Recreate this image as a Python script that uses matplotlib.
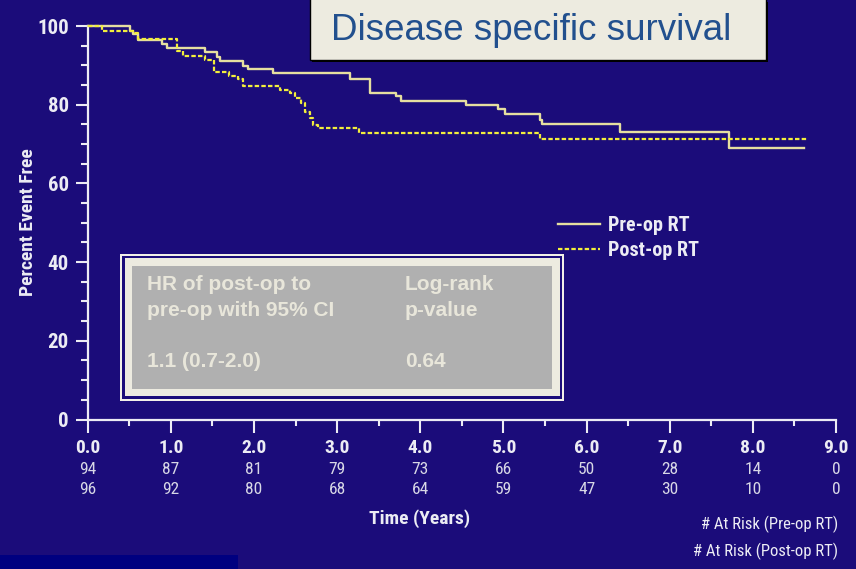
import matplotlib
matplotlib.use('Agg')
import matplotlib.pyplot as plt
from matplotlib.patches import Rectangle
from matplotlib.ticker import MultipleLocator
import matplotlib.transforms as mtransforms

# Kaplan-Meier steps (years, percent event free)
pre_t = [0, 0.51, 0.55, 0.61, 0.89, 0.95, 1.41, 1.55, 1.59, 1.87, 1.93, 2.23,
         3.15, 3.40, 3.71, 3.77, 4.55, 4.93, 5.02, 5.44, 5.46, 6.40, 7.71, 8.62]
pre_s = [100, 98.8, 98.0, 96.4, 95.3, 94.3, 93.5, 92.2, 91.1, 89.9, 89.0, 88.0,
         86.5, 83.1, 82.2, 81.0, 79.8, 78.8, 77.6, 76.0, 75.0, 73.0, 68.9, 68.9]

post_t = [0, 0.17, 0.57, 0.61, 1.07, 1.15, 1.41, 1.52, 1.70, 1.81, 1.87, 2.31,
          2.43, 2.49, 2.57, 2.61, 2.67, 2.71, 2.77, 3.26, 5.44, 8.66]
post_s = [100, 98.8, 98.1, 96.8, 93.6, 92.3, 91.4, 88.2, 87.3, 86.5, 84.8, 83.7,
          82.9, 81.6, 80.4, 78.2, 76.5, 74.8, 74.0, 72.9, 71.4, 71.4]

years = [0, 1, 2, 3, 4, 5, 6, 7, 8, 9]
risk_pre = [94, 87, 81, 79, 73, 66, 50, 28, 14, 0]
risk_post = [96, 92, 80, 68, 64, 59, 47, 30, 10, 0]

hr_text = '1.1 (0.7-2.0)'
p_text = '0.64'

W, H = 856, 569
bg = '#1b0c7a'
white = '#ececf4'
narrow = ['Roboto Condensed', 'Liberation Sans Narrow', 'Liberation Sans']
arial = ['Liberation Sans', 'DejaVu Sans']

fig = plt.figure(figsize=(W / 100, H / 100), dpi=100, facecolor=bg)


def fx(px):
    return px / W


def fy(py):
    return 1 - py / H


def box(x0, y0, x1, y1, color, **kw):
    r = Rectangle((fx(x0), fy(y1)), fx(x1 - x0), (y1 - y0) / H,
                  transform=fig.transFigure, facecolor=color, **kw)
    fig.patches.append(r)
    return r


ax = fig.add_axes([fx(87.7), fy(419.5), fx(836 - 87.7), (419.5 - 26) / H])
ax.set_facecolor(bg)
ax.set_xlim(0, 9)
ax.set_ylim(0, 100)

ax.step(pre_t, pre_s, where='post', color='#e6dfa0', lw=1.7,
        label='Pre-op RT', clip_on=False, zorder=3)
ax.step(post_t, post_s, where='post', color='#f2ee3c', lw=1.6,
        linestyle=(0, (2, 1)), label='Post-op RT', clip_on=False, zorder=3)

for side in ['top', 'right']:
    ax.spines[side].set_visible(False)
for side in ['left', 'bottom']:
    ax.spines[side].set_color(white)
    ax.spines[side].set_linewidth(1.6)

ax.xaxis.set_major_locator(MultipleLocator(1))
ax.xaxis.set_minor_locator(MultipleLocator(0.5))
ax.yaxis.set_major_locator(MultipleLocator(20))
ax.yaxis.set_minor_locator(MultipleLocator(5))
ax.tick_params(axis='y', which='major', length=8.6, width=1.5, color=white, pad=5)
ax.tick_params(axis='y', which='minor', length=5, width=1.5, color=white)
ax.tick_params(axis='x', which='major', length=9, width=1.5, color=white, pad=5)
ax.tick_params(axis='x', which='minor', length=4.5, width=1.5, color=white)
ax.set_xticks(years)
ax.set_xticklabels(['%.1f' % y for y in years])
for lab in ax.get_xticklabels():
    lab.set_family(narrow)
    lab.set_fontweight('bold')
    lab.set_fontsize(14)
    lab.set_color(white)
for lab in ax.get_yticklabels():
    lab.set_family(narrow)
    lab.set_fontweight('bold')
    lab.set_fontsize(15)
    lab.set_color(white)

leg = ax.legend(loc='upper left', bbox_to_anchor=(fx(558), fy(216)),
                bbox_transform=fig.transFigure, frameon=False,
                prop={'family': narrow, 'weight': 'bold', 'size': 14.5},
                handlelength=2.1, handletextpad=0.4, labelspacing=0.3,
                borderpad=0, borderaxespad=0)
for t in leg.get_texts():
    t.set_color(white)

# numbers at risk under each year
tr = mtransforms.blended_transform_factory(ax.transData, fig.transFigure)
for x, a, b in zip(years, risk_pre, risk_post):
    ax.text(x, fy(470), str(a), transform=tr, ha='center', va='center',
            family=narrow, fontsize=12.5, color='#d8d8e6')
    ax.text(x, fy(489), str(b), transform=tr, ha='center', va='center',
            family=narrow, fontsize=12.5, color='#d8d8e6')

fig.text(fx(420), fy(519), 'Time (Years)', ha='center', va='center',
         family=narrow, fontweight='bold', fontsize=14, color=white)
fig.text(fx(838), fy(524), '# At Risk (Pre-op RT)', ha='right', va='center',
         family=narrow, fontsize=12, color=white)
fig.text(fx(838), fy(551), '# At Risk (Post-op RT)', ha='right', va='center',
         family=narrow, fontsize=12, color=white)
fig.text(fx(28), fy(222), 'Percent Event Free', ha='center', va='center',
         rotation=90, family=narrow, fontweight='bold', fontsize=14, color=white)

# title banner
box(312, 2, 768, 62, '#000000')
box(310, -10, 766, 60, '#edebe0', edgecolor='#000000', linewidth=1)
fig.text(fx(531), fy(30), 'Disease specific survival', ha='center', va='center',
         family=arial, fontsize=26.5, color='#22508e')

# hazard ratio panel
box(120, 254.3, 564, 400.7, '#f2f0e8')
box(122, 256.3, 562, 398.5, bg)
box(124.5, 258, 560, 396, '#edebe0')
box(132, 266, 552.3, 389, '#b0b0b0')
panel_txt = '#e8e6da'
for txt, x, y in [('HR of post-op to', 147, 285), ('pre-op with 95% CI', 147, 310),
                  (hr_text, 147, 361.7), ('Log-rank', 405, 285),
                  ('p-value', 405, 310), (p_text, 405, 361.7)]:
    fig.text(fx(x), fy(y), txt, ha='left', va='center', family=arial,
             fontweight='bold', fontsize=15, color=panel_txt)

# strip at the lower left corner
box(0, 555, 237.7, 580, '#000080')

fig.savefig('out.png', dpi=100, facecolor=bg)
